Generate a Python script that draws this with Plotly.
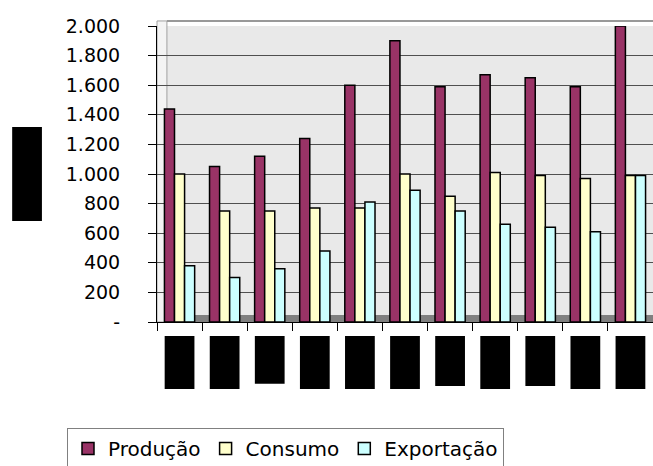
import plotly.graph_objects as go

categories = ["C1", "C2", "C3", "C4", "C5", "C6", "C7", "C8", "C9", "C10", "C11"]
producao = [1440, 1050, 1120, 1240, 1600, 1900, 1590, 1670, 1650, 1590, 2000]
consumo = [1000, 750, 750, 770, 770, 1000, 850, 1010, 990, 970, 990]
exportacao = [380, 300, 360, 480, 810, 890, 750, 660, 640, 610, 990]

tick_vals = [0, 200, 400, 600, 800, 1000, 1200, 1400, 1600, 1800, 2000]
tick_text = ["-", "200", "400", "600", "800", "1.000", "1.200", "1.400", "1.600", "1.800", "2.000"]

# bottoms (paper coords) of redaction boxes over category labels
label_box_bottom = [-0.226, -0.226, -0.209, -0.226, -0.226, -0.226, -0.216, -0.226, -0.216, -0.226, -0.226]

FONT = "DejaVu Sans"

fig = go.Figure()
series = [("Produção", producao, "#993366"),
          ("Consumo", consumo, "#FFFFCC"),
          ("Exportação", exportacao, "#CCFFFF")]
for name, vals, col in series:
    fig.add_trace(go.Bar(
        x=categories, y=vals, name=name,
        marker=dict(color=col, line=dict(color="black", width=1.5)),
        cliponaxis=False,
    ))

shapes = []
# floor band
shapes.append(dict(type="rect", xref="paper", yref="paper", x0=0, x1=1, y0=0, y1=0.024,
                   fillcolor="#808080", line=dict(width=0), layer="between"))
# left side wall
shapes.append(dict(type="rect", xref="paper", yref="paper", x0=0, x1=0.02, y0=0, y1=1.017,
                   fillcolor="#f4f4f4", line=dict(color="#a0a0a0", width=1), layer="between"))
# top wall border
shapes.append(dict(type="line", xref="paper", yref="paper", x0=0.02, x1=1, y0=1.017, y1=1.017,
                   line=dict(color="#999999", width=2)))
# y-axis title redaction box
shapes.append(dict(type="rect", xref="paper", yref="paper", x0=-0.292, x1=-0.232, y0=0.341, y1=0.659,
                   fillcolor="black", line=dict(width=0)))
# category label redaction boxes
for i, cat in enumerate(categories):
    shapes.append(dict(type="rect", xref="x", yref="paper", x0=i - 0.33, x1=i + 0.33,
                       y0=label_box_bottom[i], y1=-0.047,
                       fillcolor="black", line=dict(width=0)))

fig.update_layout(
    width=653, height=466,
    margin=dict(l=157, r=0, t=26, b=144, autoexpand=False),
    paper_bgcolor="white",
    plot_bgcolor="#e9e9e9",
    barmode="group",
    bargap=0.33,
    bargroupgap=0,
    font=dict(family=FONT, size=18, color="black"),
    shapes=shapes,
    showlegend=True,
    legend=dict(
        orientation="h",
        xref="container", x=67 / 653, xanchor="left",
        y=-0.358, yanchor="top",
        bgcolor="white", bordercolor="#808080", borderwidth=1,
        font=dict(family=FONT, size=20, color="black"),
    ),
    xaxis=dict(
        type="category",
        range=[-0.5, 10.5],
        showticklabels=False,
        showline=True, linecolor="black", linewidth=1,
        ticks="outside", ticklen=8, tickcolor="black", tickson="boundaries",
        showgrid=False, zeroline=False,
    ),
    yaxis=dict(
        range=[0, 2000],
        tickvals=tick_vals, ticktext=tick_text,
        tickfont=dict(family=FONT, size=19, color="black"),
        showline=True, linecolor="black", linewidth=1,
        ticks="outside", ticklen=8, tickcolor="black",
        ticklabelstandoff=24,
        showgrid=True, gridcolor="#505050", gridwidth=1,
        zeroline=False,
    ),
)

fig.write_html("out.html")
